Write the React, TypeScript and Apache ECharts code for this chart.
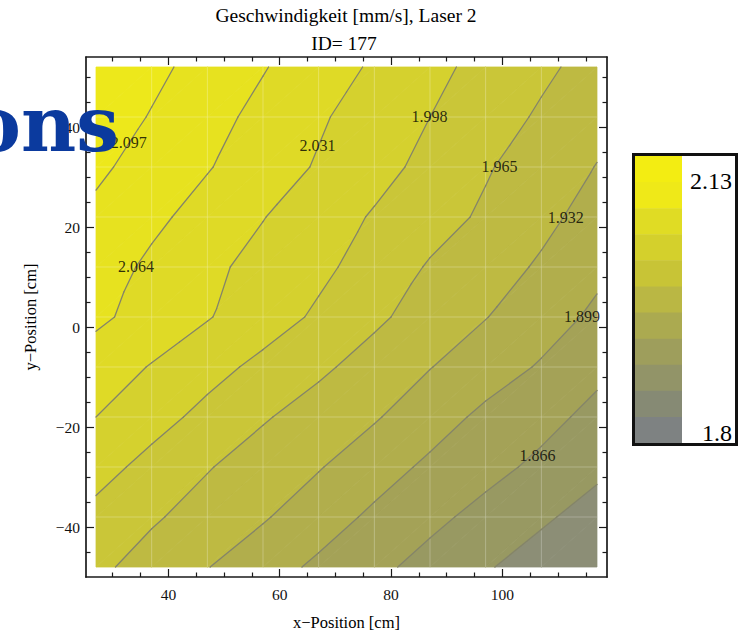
import React, { useEffect, useRef } from "react";
import * as echarts from "echarts";

// ---- data ----
const xPositions = [27, 37, 47, 57, 67, 77, 87, 97, 107, 117];
const yPositions = [52, 42, 32, 22, 12, 2, -8, -18, -28, -38, -48];

const speedY52 = [2.125, 2.105, 2.085, 2.066, 2.046, 2.027, 2.007, 1.988, 1.971, 1.954];
const speedY42 = [2.115, 2.095, 2.075, 2.055, 2.035, 2.016, 1.998, 1.979, 1.961, 1.942];
const speedY32 = [2.103, 2.084, 2.066, 2.047, 2.028, 2.009, 1.989, 1.968, 1.949, 1.931];
const speedY22 = [2.09, 2.071, 2.052, 2.032, 2.014, 1.995, 1.978, 1.96, 1.94, 1.92];
const speedY12 = [2.079, 2.058, 2.038, 2.021, 2.005, 1.985, 1.962, 1.946, 1.928, 1.906];
const speedY2 = [2.07, 2.052, 2.033, 2.013, 1.993, 1.971, 1.951, 1.933, 1.913, 1.893];
const speedYm8 = [2.049, 2.029, 2.009, 1.99, 1.971, 1.952, 1.933, 1.914, 1.896, 1.874];
const speedYm18 = [2.031, 2.01, 1.989, 1.968, 1.951, 1.935, 1.913, 1.892, 1.876, 1.857];
const speedYm28 = [2.01, 1.988, 1.967, 1.95, 1.934, 1.913, 1.893, 1.876, 1.859, 1.84];
const speedYm38 = [1.989, 1.969, 1.952, 1.935, 1.914, 1.893, 1.874, 1.856, 1.838, 1.82];
const speedYm48 = [1.972, 1.952, 1.933, 1.913, 1.893, 1.874, 1.855, 1.836, 1.818, 1.799];
const speedRows = [
  speedY52, speedY42, speedY32, speedY22, speedY12, speedY2,
  speedYm8, speedYm18, speedYm28, speedYm38, speedYm48,
];

const contourLevels = [1.833, 1.866, 1.899, 1.932, 1.965, 1.998, 2.031, 2.064, 2.097];

const contourLabelText = ["2.097", "2.064", "2.031", "1.998", "1.965", "1.932", "1.899", "1.866"];
const contourLabelX = [32.9, 34.2, 66.8, 86.9, 99.5, 111.4, 114.3, 106.3];
const contourLabelY = [37, 12.1, 36.4, 42.1, 32.1, 21.9, 2.1, -25.6];

const xMajorTicks = [40, 60, 80, 100];
const xMinorTicks = [30, 35, 45, 50, 55, 65, 70, 75, 85, 90, 95, 105, 110, 115];
const yMajorTicks = [-40, -20, 0, 20, 40];
const yMinorTicks = [-45, -35, -30, -25, -15, -10, -5, 5, 10, 15, 25, 30, 35, 45, 50];

const legendTickLabels = ["2.13", "1.8"];

// ---- styles ----
const bandColors = [
  "#8C8E76", "#989962", "#A4A257", "#B1AE4C", "#BEBA42",
  "#CAC638", "#D5D12E", "#DFDA26", "#E7E21F", "#EDE81B",
];
const legendColors = [
  "#F3ED12", "#EFE918", "#E0DC24", "#D4D02C", "#C8C436", "#BAB744",
  "#ABAA50", "#9E9E5C", "#929468", "#868A74", "#7E8282",
];
const serif = "'Liberation Serif', 'Times New Roman', serif";
const frameColor = "#1a1a1a";

type P = [number, number, number];

function clipPoly(poly: P[], level: number, keepAbove: boolean): P[] {
  const out: P[] = [];
  const n = poly.length;
  for (let i = 0; i < n; i++) {
    const a = poly[i];
    const b = poly[(i + 1) % n];
    const fa = keepAbove ? a[2] - level : level - a[2];
    const fb = keepAbove ? b[2] - level : level - b[2];
    if (fa >= 0) out.push(a);
    if ((fa >= 0) !== (fb >= 0)) {
      const t = fa / (fa - fb);
      out.push([a[0] + t * (b[0] - a[0]), a[1] + t * (b[1] - a[1]), level]);
    }
  }
  return out;
}

function cellTriangles(c: number, r: number): P[][] {
  const A: P = [xPositions[c], yPositions[r], speedRows[r][c]];
  const B: P = [xPositions[c + 1], yPositions[r], speedRows[r][c + 1]];
  const C: P = [xPositions[c + 1], yPositions[r + 1], speedRows[r + 1][c + 1]];
  const D: P = [xPositions[c], yPositions[r + 1], speedRows[r + 1][c]];
  // diagonal from bottom-left (D) to top-right (B)
  return [[A, B, D], [B, C, D]];
}

const cellData: number[][] = [];
for (let r = 0; r < yPositions.length - 1; r++) {
  for (let c = 0; c < xPositions.length - 1; c++) {
    cellData.push([xPositions[c], yPositions[r], c, r]);
  }
}

export default function App() {
  const ref = useRef<HTMLDivElement>(null);
  useEffect(() => {
    if (!ref.current) return;
    const chart = echarts.init(ref.current, undefined, { renderer: "svg" });

    const edges = [-Infinity, ...contourLevels, Infinity];

    const fillRender = (params: any, api: any) => {
      const c = api.value(2);
      const r = api.value(3);
      const children: any[] = [];
      for (const tri of cellTriangles(c, r)) {
        for (let k = 0; k < edges.length - 1; k++) {
          let poly: P[] = tri;
          if (isFinite(edges[k])) poly = clipPoly(poly, edges[k], true);
          if (poly.length >= 3 && isFinite(edges[k + 1])) poly = clipPoly(poly, edges[k + 1], false);
          if (poly.length < 3) continue;
          const pts = poly.map((p) => api.coord([p[0], p[1]]));
          children.push({
            type: "polygon",
            shape: { points: pts },
            style: { fill: bandColors[k], stroke: bandColors[k], lineWidth: 0.8 },
          });
        }
      }
      return { type: "group", children };
    };

    const meshRender = (params: any, api: any) => {
      const c = api.value(2);
      const r = api.value(3);
      const children: any[] = [];
      const style = { stroke: "rgba(255,255,255,0.26)", lineWidth: 1 };
      if (r > 0) {
        const p1 = api.coord([xPositions[c], yPositions[r]]);
        const p2 = api.coord([xPositions[c + 1], yPositions[r]]);
        children.push({ type: "line", shape: { x1: p1[0], y1: p1[1], x2: p2[0], y2: p2[1] }, style });
      }
      if (c > 0) {
        const p1 = api.coord([xPositions[c], yPositions[r]]);
        const p2 = api.coord([xPositions[c], yPositions[r + 1]]);
        children.push({ type: "line", shape: { x1: p1[0], y1: p1[1], x2: p2[0], y2: p2[1] }, style });
      }
      return { type: "group", children };
    };

    const lineRender = (params: any, api: any) => {
      const c = api.value(2);
      const r = api.value(3);
      const children: any[] = [];
      for (const tri of cellTriangles(c, r)) {
        for (const L of contourLevels) {
          const pts: number[][] = [];
          for (let i = 0; i < 3; i++) {
            const a = tri[i];
            const b = tri[(i + 1) % 3];
            const fa = a[2] - L;
            const fb = b[2] - L;
            if ((fa >= 0) !== (fb >= 0)) {
              const t = fa / (fa - fb);
              pts.push([a[0] + t * (b[0] - a[0]), a[1] + t * (b[1] - a[1])]);
            }
          }
          if (pts.length === 2) {
            const p1 = api.coord(pts[0]);
            const p2 = api.coord(pts[1]);
            children.push({
              type: "line",
              shape: { x1: p1[0], y1: p1[1], x2: p2[0], y2: p2[1] },
              style: { stroke: "#848469", lineWidth: 1.3, lineCap: "round" },
            });
          }
        }
      }
      return { type: "group", children };
    };

    const xMin = 25.2, xMax = 118.8, yMin = -50, yMax = 54;
    const tickStyle = { color: frameColor, width: 1.2 };
    const frame = { show: true, onZero: false, lineStyle: { color: frameColor, width: 1.7 } };
    const noLine = { show: false, onZero: false };
    const fmt = (v: number) => String(v).replace("-", "\u2212");

    const xAxis: any[] = [
      {
        type: "value", position: "bottom", min: xMin, max: xMax,
        axisLine: frame,
        axisTick: { show: true, inside: true, length: 8, customValues: xMajorTicks, lineStyle: tickStyle },
        axisLabel: { show: true, customValues: xMajorTicks, fontSize: 15.5, color: "#111", fontFamily: serif, margin: 9, formatter: fmt },
        splitLine: { show: false },
        name: "x\u2212Position [cm]", nameLocation: "middle", nameGap: 37,
        nameTextStyle: { fontSize: 16.5, fontFamily: serif, color: "#000" },
      },
      {
        type: "value", position: "bottom", min: xMin, max: xMax, axisLine: noLine,
        axisTick: { show: true, inside: true, length: 4.5, customValues: xMinorTicks, lineStyle: tickStyle },
        axisLabel: { show: false }, splitLine: { show: false },
      },
      {
        type: "value", position: "top", min: xMin, max: xMax, axisLine: frame,
        axisTick: { show: true, inside: true, length: 8, customValues: xMajorTicks, lineStyle: tickStyle },
        axisLabel: { show: false }, splitLine: { show: false },
      },
      {
        type: "value", position: "top", min: xMin, max: xMax, axisLine: noLine,
        axisTick: { show: true, inside: true, length: 4.5, customValues: xMinorTicks, lineStyle: tickStyle },
        axisLabel: { show: false }, splitLine: { show: false },
      },
    ];
    const yAxis: any[] = [
      {
        type: "value", position: "left", min: yMin, max: yMax,
        axisLine: frame,
        axisTick: { show: true, inside: true, length: 8, customValues: yMajorTicks, lineStyle: tickStyle },
        axisLabel: { show: true, customValues: yMajorTicks, fontSize: 15.5, color: "#111", fontFamily: serif, margin: 6, formatter: fmt },
        splitLine: { show: false },
        name: "y\u2212Position [cm]", nameLocation: "middle", nameGap: 47, nameRotate: 90,
        nameTextStyle: { fontSize: 16.5, fontFamily: serif, color: "#000" },
      },
      {
        type: "value", position: "left", min: yMin, max: yMax, axisLine: noLine,
        axisTick: { show: true, inside: true, length: 4.5, customValues: yMinorTicks, lineStyle: tickStyle },
        axisLabel: { show: false }, splitLine: { show: false },
      },
      {
        type: "value", position: "right", min: yMin, max: yMax, axisLine: frame,
        axisTick: { show: true, inside: true, length: 8, customValues: yMajorTicks, lineStyle: tickStyle },
        axisLabel: { show: false }, splitLine: { show: false },
      },
      {
        type: "value", position: "right", min: yMin, max: yMax, axisLine: noLine,
        axisTick: { show: true, inside: true, length: 4.5, customValues: yMinorTicks, lineStyle: tickStyle },
        axisLabel: { show: false }, splitLine: { show: false },
      },
    ];

    const legendTop = 156, legendBottom = 443;
    const rowH = (legendBottom - legendTop) / legendColors.length;
    const legendChildren: any[] = legendColors.map((col, i) => ({
      type: "rect",
      shape: { x: 635, y: legendTop + i * rowH, width: 47, height: rowH + 0.5 },
      style: { fill: col },
    }));
    legendChildren.push({
      type: "rect",
      shape: { x: 633.5, y: 154.5, width: 103, height: 290 },
      style: { fill: "none", stroke: "#111", lineWidth: 3 },
    });
    legendChildren.push({
      type: "text", x: 732, y: 181,
      style: { text: legendTickLabels[0], fill: "#000", font: `24px ${serif}`, align: "right", verticalAlign: "middle" },
    });
    legendChildren.push({
      type: "text", x: 732, y: 433,
      style: { text: legendTickLabels[1], fill: "#000", font: `24px ${serif}`, align: "right", verticalAlign: "middle" },
    });

    const option: any = {
      animation: false,
      backgroundColor: "#ffffff",
      textStyle: { fontFamily: serif },
      grid: { left: 86, right: 135, top: 57, bottom: 58, containLabel: false, outerBoundsMode: "none" },
      xAxis,
      yAxis,
      series: [
        {
          type: "custom", renderItem: fillRender, data: cellData,
          encode: { x: 0, y: 1 }, xAxisIndex: 0, yAxisIndex: 0, z: 1, silent: true,
        },
        {
          type: "custom", renderItem: meshRender, data: cellData,
          encode: { x: 0, y: 1 }, xAxisIndex: 0, yAxisIndex: 0, z: 2, silent: true,
        },
        {
          type: "custom", renderItem: lineRender, data: cellData,
          encode: { x: 0, y: 1 }, xAxisIndex: 0, yAxisIndex: 0, z: 3, silent: true,
        },
        {
          type: "scatter", xAxisIndex: 0, yAxisIndex: 0, z: 4, silent: true,
          symbol: "circle", symbolSize: 1, itemStyle: { color: "rgba(0,0,0,0)" },
          data: contourLabelText.map((t, i) => [contourLabelX[i], contourLabelY[i], t]),
          label: {
            show: true, position: "inside", formatter: (p: any) => p.value[2],
            fontSize: 16, fontFamily: serif, color: "#000",
          },
        },
      ],
      graphic: [
        {
          type: "text", x: 346, y: 15.5, z: 10,
          style: { text: "Geschwindigkeit [mm/s], Laser 2", fill: "#000", font: `19.5px ${serif}`, align: "center", verticalAlign: "middle" },
        },
        {
          type: "text", x: 344, y: 43.5, z: 10,
          style: { text: "ID= 177", fill: "#000", font: `19.5px ${serif}`, align: "center", verticalAlign: "middle" },
        },
        { type: "group", z: 10, children: legendChildren },
        {
          type: "text", x: 119, y: 124, z: 100,
          style: { text: "ons", fill: "#0B3A9E", font: `bold 76px 'DejaVu Serif', serif`, align: "right", verticalAlign: "middle" },
        },
      ],
    };
    chart.setOption(option);
    return () => chart.dispose();
  }, []);
  return (
    <div
      ref={ref}
      style={{ position: "fixed", left: 0, top: 0, width: 742, height: 635, background: "#fff" }}
    />
  );
}
